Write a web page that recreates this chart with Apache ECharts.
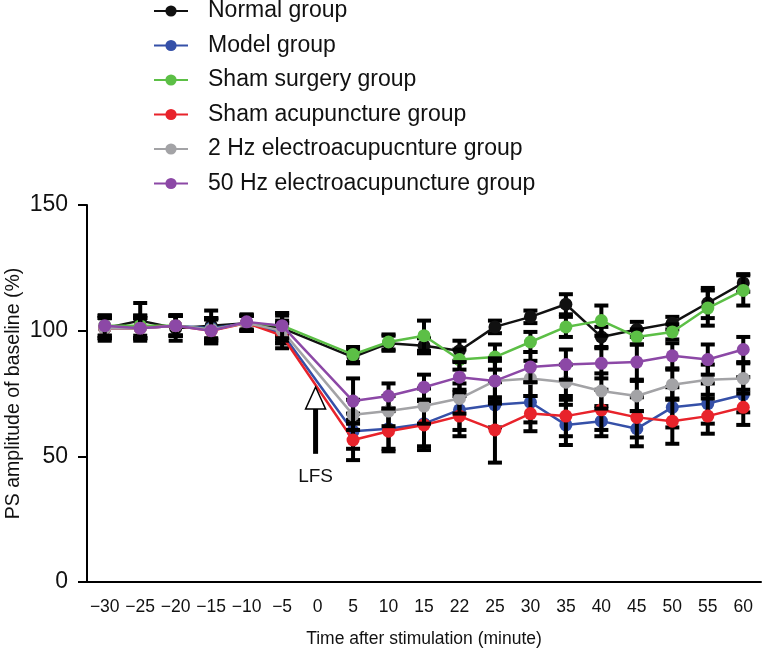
<!DOCTYPE html>
<html>
<head>
<meta charset="utf-8">
<script src="https://cdn.jsdelivr.net/npm/echarts@6/dist/echarts.min.js"></script>
<style>html,body{margin:0;padding:0;background:#fff}#c{width:765px;height:653px}</style>
</head>
<body>
<div id="c"></div>
<script>
const categories = ['\u221230','\u221225','\u221220','\u221215','\u221210','\u22125','0','5','10','15','22','25','30','35','40','45','50','55','60'];
const yTicks = [0, 50, 100, 150];

const seriesNames = ['Normal group','Model group','Sham surgery group','Sham acupuncture group','2 Hz electroacupucnture group','50 Hz electroacupuncture group'];

const normalMean = [101, 104, 101, 102, 103, 101, null, 89.5, 95, 94, 92, 101.5, 105.5, 110.5, 97.5, 100.5, 103, 111, 119];
const normalErr  = [5, 7, 5, 6, 3, 6, null, 2.5, 3, 3, 4, 2.5, 2.5, 4, 4, 3, 2.5, 6, 3.5];

const modelMean = [101, 101, 102, 101, 103, 99, null, 60, 61, 63, 68.5, 70.5, 71.5, 62.5, 64, 61, 69.5, 71, 74.5];
const modelErr  = [4, 4, 4, 4, 3, 4, null, 7, 8, 9, 8, 9, 8, 8, 6, 7, 8, 8, 7];

const shamSurgMean = [102, 102, 102, 100.5, 103, 102, null, 90.5, 95.5, 98, 88.5, 89.5, 95.5, 101.5, 104, 97.5, 99.5, 109, 116];
const shamSurgErr  = [4, 4, 4, 4, 3, 4, null, 3, 3, 6, 4, 5, 4, 4, 6, 3, 3, 7, 6];

const shamAcuMean = [101, 101, 102, 100, 103, 98, null, 56.5, 60, 62.5, 66, 60.5, 67, 66, 68.5, 65.5, 64, 66, 69.5];
const shamAcuErr  = [4, 4, 4, 5, 3, 5, null, 8, 8, 10, 8, 13, 7, 8, 8, 8, 9, 7, 7];

const hz2Mean = [101, 101, 102, 100.5, 103, 100, null, 66.5, 68, 70, 73, 80, 81, 79.5, 76, 74, 78.5, 80.5, 81];
const hz2Err  = [4, 4, 4, 4, 3, 4, null, 6, 6, 7, 6, 8, 7, 7, 7, 6, 6, 6, 6];

const hz50Mean = [102, 101, 102, 100, 103.5, 102, null, 72, 74, 77.5, 81.5, 80, 85.5, 86.5, 87, 87.5, 90, 88.5, 92.5];
const hz50Err  = [4, 5, 4, 5, 3, 5, null, 9, 5, 5, 6, 9, 6, 6, 6, 7, 5, 6, 5];

const colors = ['#111111', '#3550a8', '#5cbf46', '#e8232b', '#a3a3a6', '#8c48a6'];

// LFS arrow annotation (category index, tip value, base value, label value)
const lfsIndex = 6, lfsTip = 77.6, lfsBase = 51, lfsLabel = 42;

const means = [normalMean, modelMean, shamSurgMean, shamAcuMean, hz2Mean, hz50Mean];
const errs = [normalErr, modelErr, shamSurgErr, shamAcuErr, hz2Err, hz50Err];

function errRender(params, api) {
  const x = api.value(0), v = api.value(1), e = api.value(2);
  const top = api.coord([x, v + e]);
  const bot = api.coord([x, v - e]);
  const hw = 7;
  const st = {stroke: '#000', lineWidth: 4};
  return {type: 'group', children: [
    {type: 'line', shape: {x1: top[0], y1: top[1], x2: bot[0], y2: bot[1]}, style: st},
    {type: 'line', shape: {x1: top[0] - hw, y1: top[1], x2: top[0] + hw, y2: top[1]}, style: st},
    {type: 'line', shape: {x1: bot[0] - hw, y1: bot[1], x2: bot[0] + hw, y2: bot[1]}, style: st}
  ]};
}

const series = [];
means.forEach((m, i) => {
  const ed = [];
  m.forEach((v, j) => { if (v !== null) ed.push([j, v, errs[i][j]]); });
  series.push({
    type: 'custom', name: seriesNames[i] + ' err', renderItem: errRender,
    data: ed, z: 2 + i * 2, silent: true, encode: {x: 0, y: 1}
  });
  series.push({
    type: 'line', name: seriesNames[i], data: m, connectNulls: true,
    symbol: 'circle', symbolSize: 13, showSymbol: true,
    lineStyle: {color: colors[i], width: 2.5},
    itemStyle: {color: colors[i]},
    z: 3 + i * 2, animation: false
  });
});

series.push({
  type: 'custom', name: 'LFS', silent: true, z: 20,
  data: [[lfsIndex, lfsTip, lfsBase, lfsLabel]],
  renderItem: function (params, api) {
    const tip = api.coord([api.value(0), api.value(1)]);
    const base = api.coord([api.value(0), api.value(2)]);
    const lab = api.coord([api.value(0), api.value(3)]);
    const x = tip[0] - 2;
    const headH = 22, headW = 10;
    return {type: 'group', children: [
      {type: 'rect', shape: {x: x - 2.5, y: tip[1] + headH, width: 5, height: base[1] - tip[1] - headH}, style: {fill: '#000'}},
      {type: 'polygon', shape: {points: [[x, tip[1]], [x - headW, tip[1] + headH], [x + headW, tip[1] + headH]]}, style: {fill: '#fff', stroke: '#000', lineWidth: 1.5}},
      {type: 'text', style: {text: 'LFS', x: x, y: lab[1], align: 'center', verticalAlign: 'middle', fontSize: 19, fontFamily: 'Liberation Sans, Arial, sans-serif', fill: '#111'}}
    ]};
  }
});

const chart = echarts.init(document.getElementById('c'));
chart.setOption({
  animation: false,
  backgroundColor: '#fff',
  textStyle: {fontFamily: 'Liberation Sans, Arial, sans-serif'},
  legend: {
    data: seriesNames,
    orient: 'vertical',
    left: 153, top: -1, padding: 0,
    itemWidth: 34, itemHeight: 14, itemGap: 10.5,
    textStyle: {fontSize: 23, color: '#111', lineHeight: 24, padding: [0, 0, 0, 15]},
    selectedMode: false
  },
  grid: {left: 87, right: 4, top: 205, bottom: 71, containLabel: false, outerBoundsMode: 'none'},
  xAxis: {
    type: 'category', data: categories, boundaryGap: true,
    name: 'Time after stimulation (minute)', nameLocation: 'middle', nameGap: 48,
    nameTextStyle: {fontSize: 17.5, color: '#111'},
    axisLine: {lineStyle: {color: '#000', width: 2}},
    axisTick: {show: false},
    axisLabel: {interval: 0, fontSize: 17.5, color: '#111', margin: 16}
  },
  yAxis: {
    type: 'value', min: yTicks[0], max: yTicks[yTicks.length - 1], interval: 50,
    name: 'PS amplitude of baseline (%)', nameLocation: 'middle', nameGap: 63,
    nameMoveOverlap: false,
    nameTextStyle: {fontSize: 19.5, color: '#111'},
    axisLine: {show: true, lineStyle: {color: '#000', width: 2}},
    axisTick: {show: true, length: 9, lineStyle: {color: '#000', width: 2}},
    axisLabel: {fontSize: 23, color: '#111', margin: 19},
    splitLine: {show: false}
  },
  series: series
});
</script>
</body>
</html>
